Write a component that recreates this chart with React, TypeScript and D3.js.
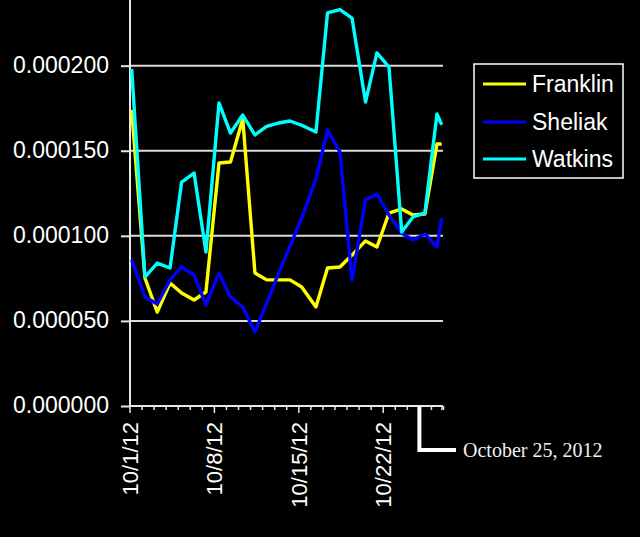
import { useRef, useEffect } from 'react';
import * as d3 from 'd3';

// sample times (local), one reading per day
const times = [
    '2012-10-01 03:20', '2012-10-02 05:45', '2012-10-03 06:15', '2012-10-04 07:40',
    '2012-10-05 06:45', '2012-10-06 07:30', '2012-10-07 07:10', '2012-10-08 09:10',
    '2012-10-09 08:00', '2012-10-10 08:25', '2012-10-11 08:40', '2012-10-12 08:00',
    '2012-10-13 07:25', '2012-10-14 06:30', '2012-10-15 05:45', '2012-10-16 10:05',
    '2012-10-17 09:10', '2012-10-18 09:50', '2012-10-19 09:50', '2012-10-20 12:45',
    '2012-10-21 11:30', '2012-10-22 11:30', '2012-10-23 12:45', '2012-10-24 11:15',
    '2012-10-25 11:00', '2012-10-26 11:00', '2012-10-26 20:25',
];

const franklin = [
    0.0001740, 0.0000752, 0.0000552, 0.0000723, 0.0000664, 0.0000623, 0.0000670,
    0.0001428, 0.0001434, 0.0001687, 0.0000782, 0.0000741, 0.0000741, 0.0000741,
    0.0000699, 0.0000582, 0.0000811, 0.0000817, 0.0000887, 0.0000970, 0.0000934,
    0.0001134, 0.0001158, 0.0001123, 0.0001128, 0.0001540, 0.0001540,
];

const sheliak = [
    0.0000858, 0.0000641, 0.0000599, 0.0000741, 0.0000817, 0.0000770, 0.0000594,
    0.0000782, 0.0000641, 0.0000582, 0.0000435, 0.0000605, 0.0000776, 0.0000940,
    0.0001105, 0.0001334, 0.0001622, 0.0001493, 0.0000741, 0.0001211, 0.0001246,
    0.0001123, 0.0001017, 0.0000976, 0.0001011, 0.0000934, 0.0001105,
];

const watkins = [
    0.0001981, 0.0000758, 0.0000840, 0.0000811, 0.0001316, 0.0001369, 0.0000905,
    0.0001781, 0.0001604, 0.0001710, 0.0001593, 0.0001643, 0.0001663, 0.0001675,
    0.0001650, 0.0001610, 0.0002310, 0.0002330, 0.0002280, 0.0001786, 0.0002075,
    0.0001992, 0.0001023, 0.0001111, 0.0001134, 0.0001716, 0.0001652,
];

const seriesNames = ['Franklin', 'Sheliak', 'Watkins'];
const seriesColors = ['#ffff00', '#0000ff', '#00ffff'];
const yTicks = [0, 0.00005, 0.0001, 0.00015, 0.0002];
const xTickLabels = ['10/1/12', '10/8/12', '10/15/12', '10/22/12'];
const annotationDate = '2012-10-25 00:00';
const annotationText = 'October 25, 2012';

const parseTime = d3.timeParse('%Y-%m-%d %H:%M');

export default function App() {
    const svgRef = useRef<SVGSVGElement>(null);

    useEffect(() => {
        if (!svgRef.current) return;
        const width = 640;
        const height = 537;
        const font = '"Liberation Sans", Arial, sans-serif';

        const svg = d3.select(svgRef.current);
        svg.selectAll('*').remove();
        svg.attr('width', width).attr('height', height);

        svg.append('rect').attr('width', width).attr('height', height).attr('fill', '#000');

        const start = parseTime('2012-10-01 00:00') as Date;
        const end = parseTime('2012-10-26 21:00') as Date;
        const x = d3.scaleTime().domain([start, end]).range([130, 442]);
        const y = d3.scaleLinear().domain([0, 0.00025]).range([406, -19.4]);

        const dates = times.map(t => parseTime(t) as Date);

        // gridlines
        svg.append('g')
            .selectAll('line')
            .data(yTicks.slice(1))
            .enter()
            .append('line')
            .attr('x1', 130)
            .attr('x2', 443)
            .attr('y1', d => y(d))
            .attr('y2', d => y(d))
            .attr('stroke', '#dcdcdc')
            .attr('stroke-width', 2);

        // Y axis
        const yAxis = svg.append('g')
            .attr('transform', 'translate(130,0)')
            .call(d3.axisLeft(y).tickValues(yTicks).tickFormat(d3.format('.6f')).tickSize(9).tickPadding(12));
        yAxis.select('.domain').remove();
        yAxis.append('line')
            .attr('x1', 0).attr('x2', 0).attr('y1', 0).attr('y2', 407)
            .attr('stroke', '#e8e8e8').attr('stroke-width', 2);
        yAxis.selectAll('.tick line').attr('stroke', '#e8e8e8').attr('stroke-width', 2);
        yAxis.selectAll('text')
            .attr('fill', '#fff')
            .attr('dy', '0.3em')
            .style('font-size', '23px')
            .style('font-family', font);

        // X axis: daily minor ticks, weekly majors
        const xAxis = svg.append('g');
        xAxis.append('line')
            .attr('x1', 129).attr('x2', 443).attr('y1', 406).attr('y2', 406)
            .attr('stroke', '#e8e8e8').attr('stroke-width', 2);
        const days = d3.timeDay.range(start, d3.timeDay.offset(end, 1));
        xAxis.selectAll('.minor')
            .data(days)
            .enter()
            .append('line')
            .attr('x1', d => x(d))
            .attr('x2', d => x(d))
            .attr('y1', 406)
            .attr('y2', (d, i) => (i % 7 === 0 ? 413 : 410))
            .attr('stroke', '#e8e8e8')
            .attr('stroke-width', 1.5);
        xAxis.append('line')
            .attr('x1', 442).attr('x2', 442).attr('y1', 406).attr('y2', 410)
            .attr('stroke', '#e8e8e8').attr('stroke-width', 1.5);

        const fmt = d3.timeFormat('%-m/%-d/%y');
        const majors = days.filter(d => xTickLabels.includes(fmt(d)));
        xAxis.selectAll('.xlabel')
            .data(majors)
            .enter()
            .append('text')
            .attr('transform', d => `translate(${x(d)},422) rotate(-90)`)
            .attr('text-anchor', 'end')
            .attr('dy', '0.36em')
            .attr('fill', '#fff')
            .style('font-size', '22px')
            .style('font-family', font)
            .text(d => fmt(d));

        // annotation
        const ax = x(parseTime(annotationDate) as Date);
        svg.append('path')
            .attr('d', `M${ax},406 V450 H456`)
            .attr('fill', 'none')
            .attr('stroke', '#fff')
            .attr('stroke-width', 4);
        svg.append('text')
            .attr('x', 463)
            .attr('y', 457)
            .attr('fill', '#f0f0f0')
            .style('font-size', '20px')
            .style('font-family', '"Liberation Serif", "Times New Roman", serif')
            .text(annotationText);

        // lines
        const line = d3.line<[Date, number]>()
            .x(d => x(d[0]))
            .y(d => y(d[1]));
        const allSeries = [franklin, sheliak, watkins];
        allSeries.forEach((vals, i) => {
            svg.append('path')
                .datum(dates.map((d, j) => [d, vals[j]] as [Date, number]))
                .attr('d', line)
                .attr('fill', 'none')
                .attr('stroke', seriesColors[i])
                .attr('stroke-width', 3.4)
                .attr('stroke-linejoin', 'round');
        });

        // legend
        const legend = svg.append('g');
        legend.append('rect')
            .attr('x', 474).attr('y', 64).attr('width', 149).attr('height', 114)
            .attr('fill', '#000').attr('stroke', '#fff').attr('stroke-width', 1.5);
        const rowY = [84, 122, 159];
        seriesNames.forEach((name, i) => {
            legend.append('line')
                .attr('x1', 483).attr('x2', 526)
                .attr('y1', rowY[i]).attr('y2', rowY[i])
                .attr('stroke', seriesColors[i]).attr('stroke-width', 3.2);
            legend.append('text')
                .attr('x', 532)
                .attr('y', rowY[i])
                .attr('dy', '0.35em')
                .attr('fill', '#fff')
                .style('font-size', '23px')
                .style('font-family', font)
                .text(name);
        });
    }, []);

    return (
        <div style={{ position: 'fixed', left: 0, top: 0 }}>
            <svg ref={svgRef} style={{ display: 'block' }}></svg>
        </div>
    );
}
